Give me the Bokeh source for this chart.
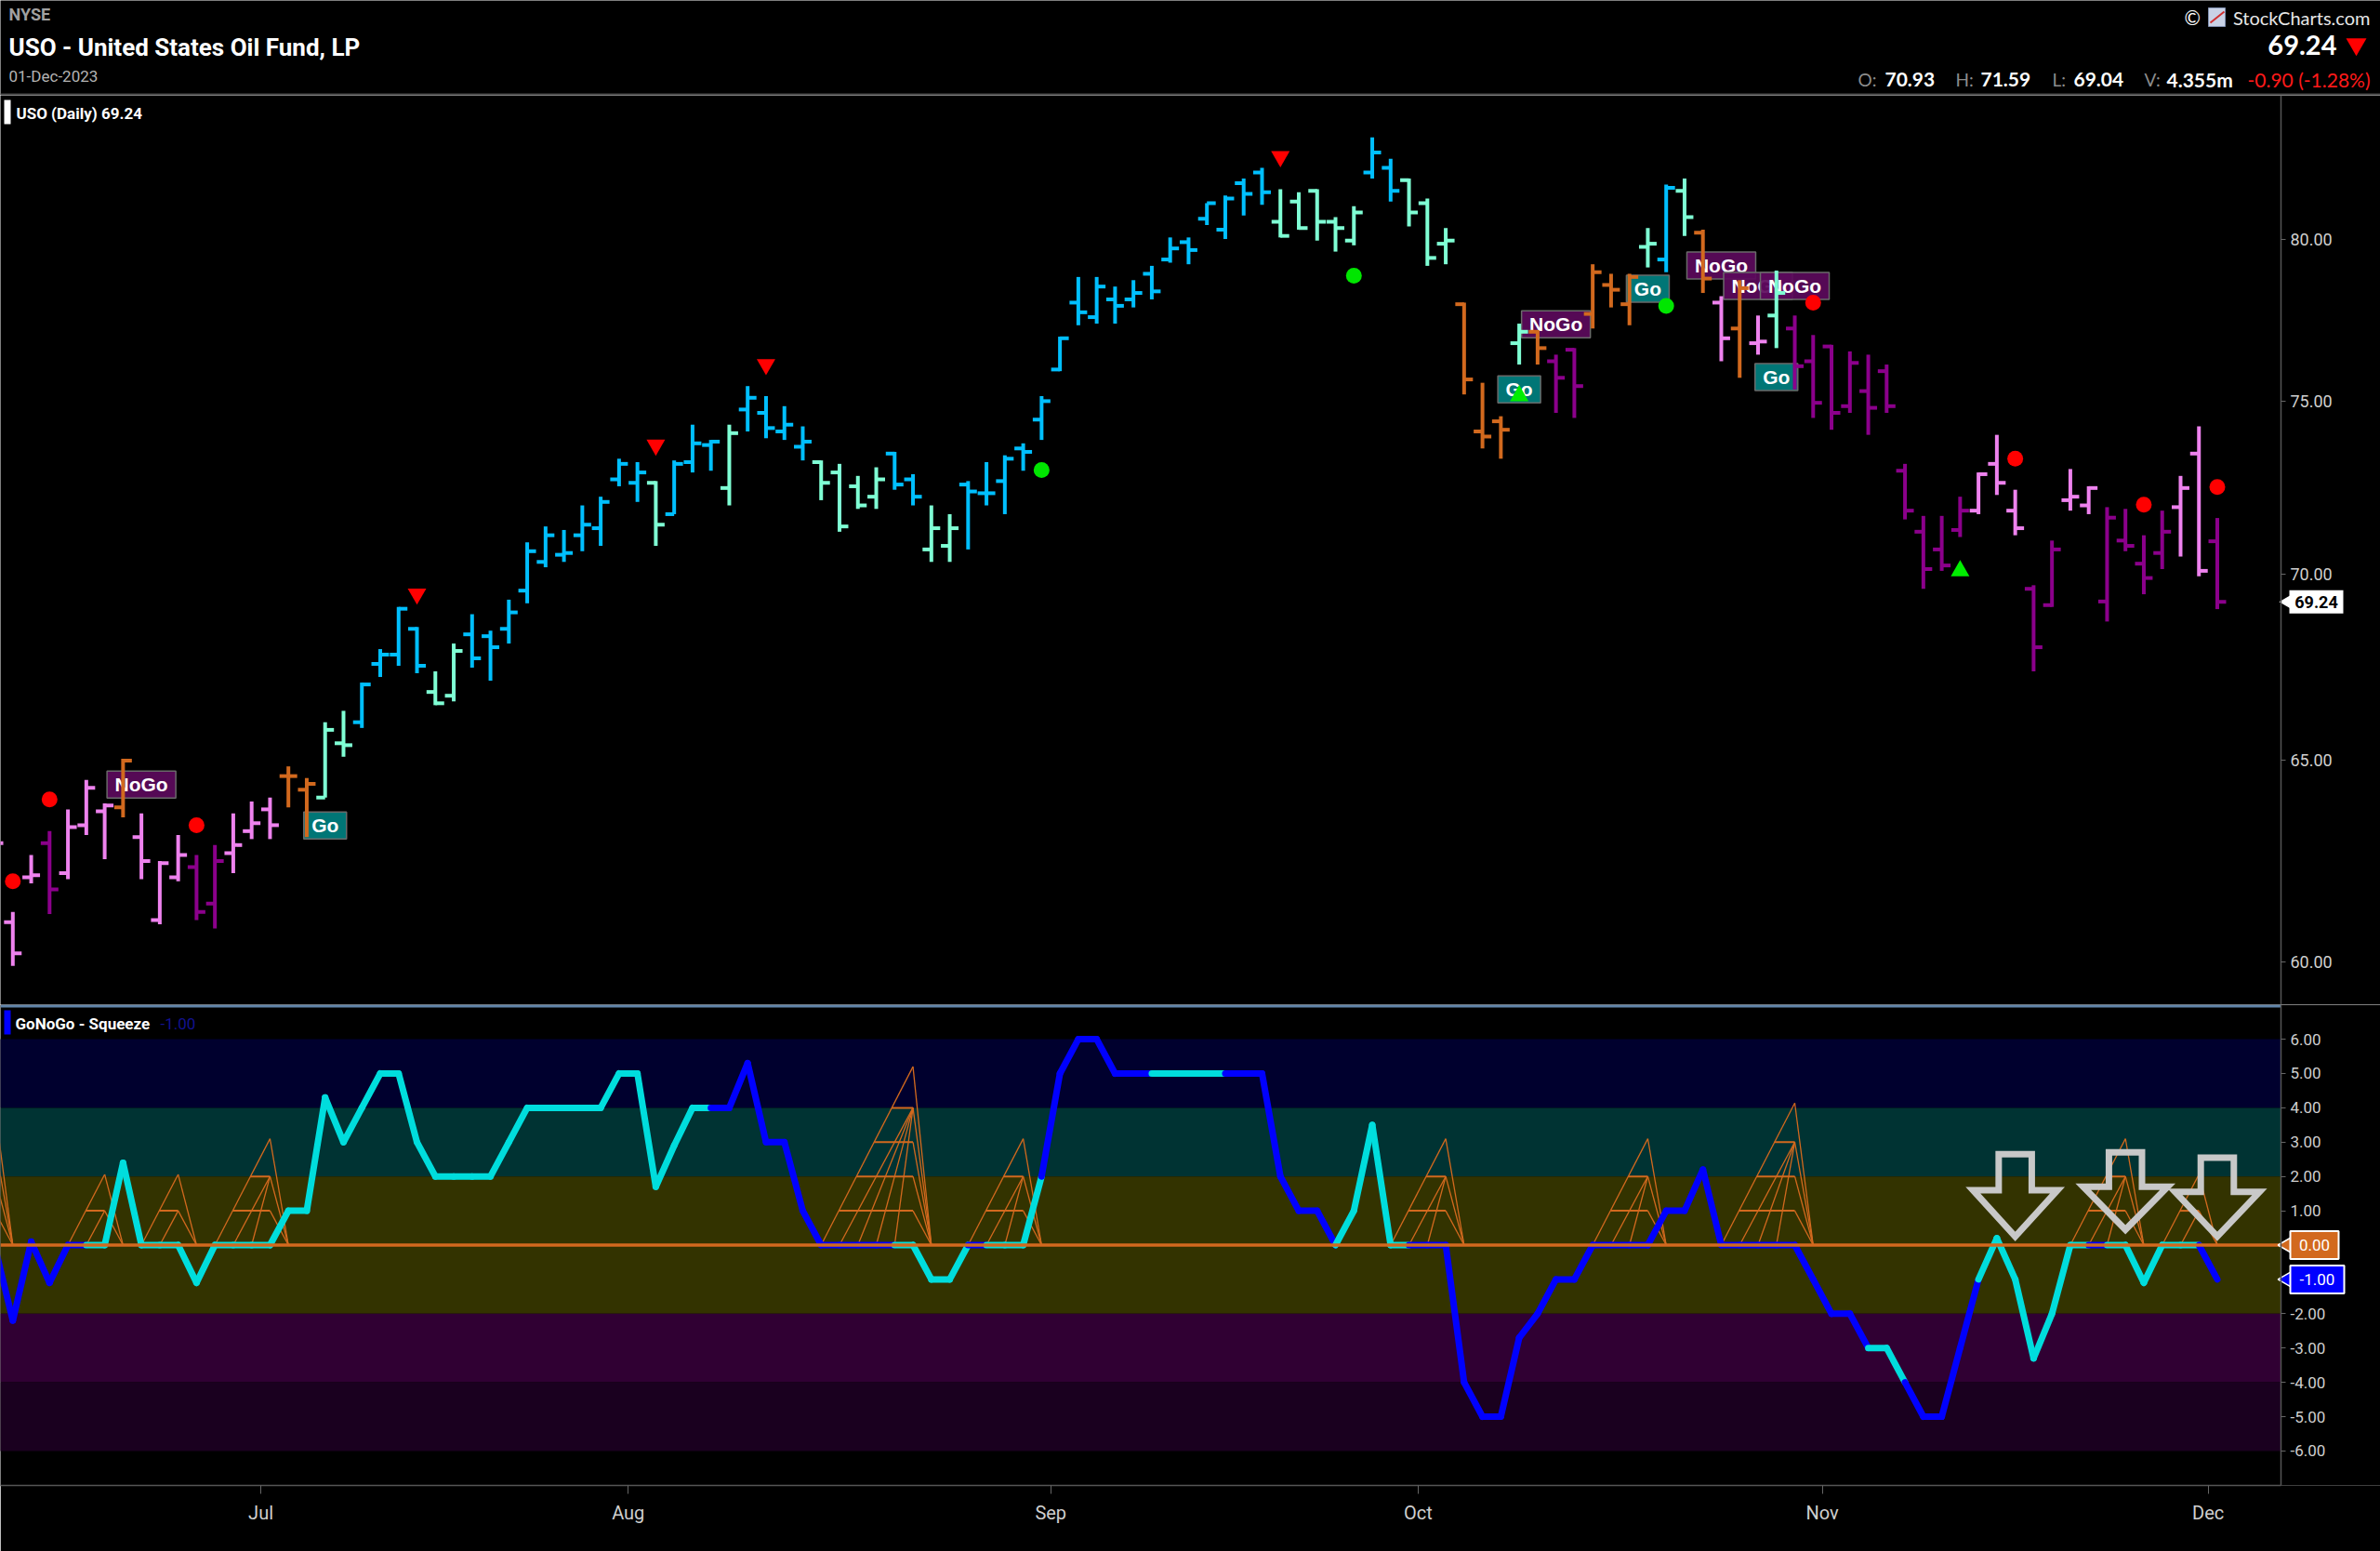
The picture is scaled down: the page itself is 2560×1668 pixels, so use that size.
import math
from bokeh.plotting import figure
from bokeh.layouts import column
from bokeh.models import Range1d, FixedTicker, NumeralTickFormatter
from bokeh.core.properties import value
from bokeh.embed import file_html
from bokeh.resources import INLINE

# ---------------- data (bar index -1 .. 120 ; 0 = 12-Jun-2023, 120 = 01-Dec-2023) ----------------
bar_index = list(range(-1, 121))

opens = [
    63.2, 60.95, 62.05, 62.9, 62.15, 63.35, 63.7, 63.8, 63.05, 61.0,
    62.05, 62.3, 61.4, 62.65, 63.2, 63.75, 64.6, 64.25, 64.05, 65.45,
    66.0, 67.55, 67.8, 68.5, 66.8, 66.7, 68.35, 68.3, 68.5, 69.55,
    70.35, 70.55, 71.1, 71.3, 72.7, 72.6, 72.6, 71.7, 73.2, 73.7,
    72.45, 74.75, 74.65, 74.1, 73.65, 73.2, 72.9, 72.5, 72.2, 73.45,
    72.7, 70.7, 70.8, 72.55, 72.3, 72.65, 73.6, 74.45, 75.95, 78.0,
    77.55, 78.1, 78.1, 78.9, 79.35, 79.9, 80.65, 80.3, 81.8, 82.15,
    80.55, 81.2, 81.55, 80.55, 79.95, 82.15, 82.3, 81.9, 81.15, 79.85,
    77.95, 74.1, 74.4, 76.75, 77.1, 76.2, 76.55, 77.65, 78.55, 77.95,
    79.75, 79.35, 81.55, 80.2, 78.0, 77.2, 76.75, 77.6, 77.2, 76.2,
    76.65, 74.85, 75.3, 75.9, 72.95, 71.2, 70.7, 71.25, 71.8, 73.15,
    71.8, 69.6, 69.15, 72.1, 71.95, 69.25, 70.95, 70.3, 70.6, 71.9,
    73.45, 70.93]
highs = [
    63.6, 61.2, 62.6, 63.2, 63.75, 64.5, 63.9, 65.05, 63.65, 62.45,
    63.1, 62.6, 62.85, 63.65, 63.95, 64.05, 64.85, 64.55, 66.0, 66.3,
    67.05, 67.95, 69.1, 68.55, 67.35, 68.1, 68.9, 68.45, 69.3, 70.9,
    71.35, 71.25, 71.95, 72.2, 73.3, 73.2, 72.65, 73.25, 74.3, 73.85,
    74.3, 75.45, 75.15, 74.85, 74.25, 73.25, 73.15, 72.8, 73.05, 73.5,
    72.85, 71.95, 71.7, 72.65, 73.2, 73.4, 73.75, 75.15, 76.95, 78.8,
    78.8, 78.5, 78.7, 79.15, 80.05, 80.05, 81.15, 81.4, 81.95, 82.3,
    81.6, 81.5, 81.6, 80.7, 81.05, 83.3, 82.6, 81.95, 81.3, 80.35,
    78.0, 75.55, 74.55, 77.35, 77.15, 76.4, 76.6, 79.2, 78.9, 78.9,
    80.35, 81.75, 81.95, 80.3, 78.2, 78.7, 77.6, 79.0, 77.6, 77.0,
    76.7, 76.5, 76.4, 76.1, 73.15, 71.65, 71.65, 72.2, 72.9, 74.0,
    72.4, 69.7, 70.95, 73.0, 72.5, 71.9, 71.85, 71.1, 71.8, 72.8,
    74.25, 71.59]
lows = [
    62.4, 59.9, 61.9, 61.15, 62.0, 63.1, 62.5, 63.55, 62.0, 60.9,
    61.95, 61.0, 60.8, 62.15, 63.0, 63.0, 63.8, 63.05, 64.05, 65.1,
    65.85, 67.2, 67.5, 67.3, 66.45, 66.55, 67.45, 67.1, 68.1, 69.2,
    70.2, 70.35, 70.65, 70.8, 72.5, 72.05, 70.8, 71.7, 72.9, 72.95,
    71.95, 74.1, 73.9, 73.85, 73.25, 72.1, 71.2, 71.85, 71.85, 72.4,
    71.95, 70.35, 70.35, 70.7, 71.95, 71.7, 72.95, 73.85, 75.9, 77.3,
    77.35, 77.35, 77.85, 78.1, 79.25, 79.2, 80.45, 80.0, 80.75, 81.1,
    80.05, 80.3, 79.95, 79.6, 79.8, 81.95, 81.2, 80.4, 79.15, 79.2,
    75.2, 73.6, 73.3, 76.1, 76.1, 74.65, 74.5, 77.2, 77.85, 77.3,
    79.1, 78.95, 80.1, 78.3, 76.2, 75.7, 76.4, 76.6, 75.35, 74.5,
    74.15, 74.65, 74.0, 74.65, 71.55, 69.6, 70.1, 71.05, 71.7, 72.25,
    71.1, 67.35, 69.1, 71.8, 71.7, 68.7, 70.65, 69.45, 70.15, 70.5,
    69.95, 69.04]
closes = [
    62.9, 60.2, 62.1, 61.75, 63.3, 64.3, 63.85, 65.0, 62.45, 62.4,
    62.6, 61.2, 62.45, 62.85, 63.4, 63.35, 64.6, 64.4, 65.8, 65.4,
    67.0, 67.8, 69.05, 67.5, 66.5, 67.9, 67.7, 68.0, 68.95, 70.65,
    71.1, 70.6, 71.4, 72.05, 73.15, 72.9, 71.4, 73.15, 73.75, 73.8,
    74.05, 75.1, 74.2, 74.3, 73.8, 72.6, 71.35, 71.95, 72.7, 72.55,
    72.2, 71.3, 71.3, 72.35, 72.3, 73.3, 73.5, 75.0, 76.9, 77.7,
    78.5, 77.9, 78.3, 78.35, 79.7, 79.65, 81.15, 81.3, 81.45, 81.5,
    80.1, 80.35, 80.55, 80.35, 80.85, 82.8, 81.55, 80.85, 79.4, 79.95,
    75.65, 73.95, 74.15, 77.1, 76.6, 75.7, 75.45, 78.95, 78.4, 78.8,
    79.85, 81.65, 80.7, 78.75, 76.9, 78.45, 76.8, 78.3, 76.05, 74.95,
    74.65, 76.15, 74.8, 74.85, 71.8, 70.15, 70.25, 71.8, 72.85, 72.6,
    71.3, 68.0, 70.7, 72.2, 72.45, 71.6, 70.8, 69.9, 71.2, 72.45,
    70.1, 69.24]
# GoNoGo trend per bar: P=weak NoGo, D=strong NoGo, O=neutral, A=weak Go, B=strong Go
trend = (
    "PPPDPPPOPP" "PDDPPPOOAA" "BBBBAABBBB" "BBBBBBABBB" "ABBBBAAAAB"
    "BAABBBBBBB" "BBBBBBBBBB" "AAAAABBAAA" "OOOAODDOOO" "ABAOPOPADD"
    "DDDDDDDDPP" "PDDPPDDDDP" "PD")

# GoNoGo oscillator per bar and its colour (A = cyan, B = blue)
osc = [
    0, -2.2, 0.1, -1.1, 0, 0, 0, 2.4, 0, 0,
    0, -1.1, 0, 0, 0, 0, 1, 1, 4.3, 3,
    4, 5, 5, 3, 2, 2, 2, 2, 3, 4,
    4, 4, 4, 4, 5, 5, 1.7, 2.9, 4, 4,
    4, 5.3, 3, 3, 1, 0, 0, 0, 0, 0,
    0, -1, -1, 0, 0, 0, 0, 2, 5, 6,
    6, 5, 5, 5, 5, 5, 5, 5, 5, 5,
    2, 1, 1, 0, 1, 3.5, 0, 0, 0, 0,
    -4, -5, -5, -2.7, -2, -1, -1, 0, 0, 0,
    0, 1, 1, 2.2, 0, 0, 0, 0, 0, -1,
    -2, -2, -3, -3, -4, -5, -5, -3, -1, 0.2,
    -1, -3.3, -2, 0, 0, 0, 0, -1.1, 0, 0,
    0, -1]
osc_col = (
    "BBBBBBAAAA" "AAAAAAAAAA" "AAAAAAAAAA" "AAAAAAAAAA" "BBBBBBBBBB"
    "AAAABAAABB" "BBBBAAAABB" "BBBBAAAABB" "BBBBBBBBBB" "BBBBBBBBBB"
    "BBBAABBBBA" "AAAAABAAAA" "AB")

# squeeze episodes (start bar, peak bar, peak height)
sq_start = [-5, 3, 7, 11, 44, 52, 75, 86, 93, 112, 117]
sq_peak = [-1, 5, 9, 14, 49, 55, 78, 89, 97, 115, 119]
sq_height = [4.1, 2.06, 2.06, 3.1, 5.2, 3.1, 3.1, 3.1, 4.14, 3.1, 2.06]

# price panel signals
red_dot_bar = [0, 2, 10, 98, 109, 116, 120]
red_dot_price = [61.95, 64.0, 63.35, 78.0, 73.3, 71.97, 72.48]
green_dot_bar = [56, 73, 90]
green_dot_price = [72.97, 78.84, 77.9]
red_tri_bar = [22, 35, 41, 69]
red_tri_price = [69.46, 73.7, 76.1, 82.67]
green_tri_bar = [82, 106]
green_tri_price = [75.16, 70.1]
label_bar = [7, 17, 82, 84, 89, 93, 95, 96, 97]
label_text = ["NoGo", "Go", "Go", "NoGo", "Go", "NoGo", "NoGo", "Go", "NoGo"]
label_price = [64.38, 63.34, 75.35, 77.33, 78.43, 79.16, 78.52, 75.72, 78.52]

# down arrows in the oscillator panel
arrow_bar = [109, 115, 120]
arrow_top = [2.65, 2.7, 2.55]
arrow_neck = [1.6, 1.7, 1.55]
arrow_tip = [0.25, 0.45, 0.25]

# axes
price_ticks = [60, 65, 70, 75, 80]
osc_ticks = [6, 5, 4, 3, 2, 1, -2, -3, -4, -5, -6]
month_labels = ["Jul", "Aug", "Sep", "Oct", "Nov", "Dec"]
month_first_bar = [14, 34, 57, 77, 99, 120]
band_low = [4, 2, -2, -4, -6]
band_high = [6, 4, 2, -2, -4]
band_colors = ["#00002e", "#003333", "#333300", "#300033", "#1a001f"]

volume_txt = "4.355m"
change_txt = "-0.90 (-1.28%)"

# ---------------- styling / layout constants ----------------
W = 2560
FONT = "Roboto"
TREND_COLORS = {"P": "#EE82EE", "D": "#8B008B", "O": "#D2691E", "A": "#7FFFD4", "B": "#00BFFF"}
OSC_COLORS = {"A": "#00DDDD", "B": "#0000FF"}
BAR_PX = 19.76          # pixels per bar
X0_PX = 13.3            # pixel of bar 0
AXIS_PX = 2453          # right axis line
XL = (0 - X0_PX) / BAR_PX
XF = (W - X0_PX) / BAR_PX
XA = (AXIS_PX - X0_PX) / BAR_PX
YB, YT = 58.98, 84.71
HH, PH, LH = 102, 978, 588
LBORDER = 71
LTOP, LBOT = 7.005, -7.005
TICK = 0.48


def style(p):
    p.background_fill_color = "black"
    p.border_fill_color = "black"
    p.outline_line_color = None
    p.grid.visible = False
    p.min_border_left = 0
    p.min_border_top = 0
    p.min_border_right = 0


def px_to_x(px):
    return (px - X0_PX) / BAR_PX


def py_to_price(py):
    lt, lb = math.log(YT), math.log(YB)
    return math.exp(lt - (py - HH) / PH * (lt - lb))


def py_to_osc(py):
    return LTOP - (py - (HH + PH)) / (LH - LBORDER) * (LTOP - LBOT)


def style_axis(ax, size):
    ax.axis_line_color = "#555555"
    ax.axis_line_width = 1.5
    ax.major_tick_line_color = "#666666"
    ax.major_tick_out = 5
    ax.major_tick_in = 0
    ax.minor_tick_line_color = None
    ax.major_label_standoff = 5
    ax.major_label_text_color = "#cfcfcf"
    ax.major_label_text_font = FONT
    ax.major_label_text_font_size = size


# ---------------- header ----------------
hd = figure(width=W, height=HH, x_range=Range1d(0, W), y_range=Range1d(HH, 0),
            toolbar_location=None, output_backend="svg", min_border=0)
style(hd)
hd.min_border_bottom = 0
hd.xaxis.visible = False
hd.yaxis.visible = False
hd.segment([0], [101], [W], [101], line_color="#4a4a4a", line_width=2)
hd.text([9], [15], text=["NYSE"], text_font=value(FONT), text_font_style="bold",
        text_font_size="18px", text_color="#a0a0a0", text_baseline="middle")
hd.text([9], [50], text=["USO - United States Oil Fund, LP"], text_font=value(FONT),
        text_font_style="bold", text_font_size="26px", text_color="white", text_baseline="middle")
hd.text([9], [81], text=["01-Dec-2023"], text_font=value(FONT), text_font_size="17px",
        text_color="#b4b4b4", text_baseline="middle")
hd.text([2349], [18], text=["©"], text_font=value("Lato"), text_font_size="21px",
        text_color="white", text_baseline="middle")
hd.rect([2384], [18], width=18, height=20, fill_color="#c9d2e6", line_color="#8090b0")
hd.segment([2377], [24], [2392], [12], line_color="#d03030", line_width=2)
hd.text([2549], [18], text=["StockCharts.com"], text_font=value("Lato"), text_font_size="20px",
        text_color="#e6e6e6", text_baseline="middle", text_align="right")
hd.text([2513], [48], text=[f"{closes[-1]:.2f}"], text_font=value("Lato"), text_font_style="bold",
        text_font_size="29px", text_color="white", text_baseline="middle", text_align="right")
hd.scatter([2534], [47], marker="inverted_triangle", size=22, fill_color="#ff0000", line_color=None)
ohlc_items = [("O:", 1998, 2027, opens[-1]), ("H:", 2103, 2130, highs[-1]),
              ("L:", 2207, 2230, lows[-1])]
for lab, xl_, xv, v in ohlc_items:
    hd.text([xl_], [85], text=[lab], text_font=value("Lato"), text_font_size="19px",
            text_color="#8c8c8c", text_baseline="middle")
    hd.text([xv], [85], text=[f"{v:.2f}"], text_font=value("Lato"), text_font_style="bold",
            text_font_size="21px", text_color="white", text_baseline="middle")
hd.text([2306], [85], text=["V:"], text_font=value("Lato"), text_font_size="19px",
        text_color="#8c8c8c", text_baseline="middle")
hd.text([2330], [85], text=[volume_txt], text_font=value("Lato"), text_font_style="bold",
        text_font_size="21px", text_color="white", text_baseline="middle")
hd.text([2549], [85], text=[change_txt], text_font=value("Lato"), text_font_size="21px",
        text_color="#ff1a1a", text_baseline="middle", text_align="right")

# ---------------- price panel ----------------
pf = figure(width=W, height=PH, x_range=Range1d(XL, XF), y_range=Range1d(YB, YT),
            y_axis_type="log", y_axis_location="right", toolbar_location=None,
            output_backend="svg")
style(pf)
pf.min_border_bottom = 0
pf.xaxis.visible = False
ya = pf.yaxis[0]
ya.ticker = FixedTicker(ticks=price_ticks)
ya.formatter = NumeralTickFormatter(format="0.00")
ya.fixed_location = XA
style_axis(ya, "18px")

# Go / NoGo labels (drawn under the bars)
for b, t, y in zip(label_bar, label_text, label_price):
    go = t == "Go"
    pf.rect([b], [y], width=46 if go else 74, height=29, width_units="screen",
            height_units="screen", fill_color="#008080" if go else "#5c0a5c",
            fill_alpha=0.92, line_color="#6a6a6a", line_width=1.5)
    pf.text([b], [y], text=[t], text_align="center", text_baseline="middle", text_color="white",
            text_font=value("Liberation Sans"), text_font_style="bold", text_font_size="21px")

bc = [TREND_COLORS[t] for t in trend]
pf.segment(bar_index, lows, bar_index, highs, line_color=bc, line_width=4)
pf.segment([i - TICK for i in bar_index], opens, bar_index, opens, line_color=bc, line_width=4)
pf.segment(bar_index, closes, [i + TICK for i in bar_index], closes, line_color=bc, line_width=4)

pf.scatter(red_dot_bar, red_dot_price, marker="circle", size=17, fill_color="#ff0000", line_color=None)
pf.scatter(green_dot_bar, green_dot_price, marker="circle", size=17, fill_color="#00e600", line_color=None)
pf.scatter(red_tri_bar, red_tri_price, marker="inverted_triangle", size=20, fill_color="#ff0000", line_color=None)
pf.scatter(green_tri_bar, green_tri_price, marker="triangle", size=20, fill_color="#00ee00", line_color=None)

# panel legend
pf.rect([px_to_x(7.5)], [py_to_price(120)], width=7, height=26, width_units="screen",
        height_units="screen", fill_color="white", line_color=None)
pf.text([px_to_x(17)], [py_to_price(121)], text=[f"USO (Daily) {closes[-1]:.2f}"],
        text_font=value(FONT), text_font_style="bold", text_font_size="17px",
        text_color="white", text_baseline="middle")

# last-price badge on the axis
pf.scatter([px_to_x(2459)], [closes[-1]], marker="triangle", angle=math.pi / 2, size=14,
           fill_color="white", line_color=None)
pf.rect([px_to_x(2491)], [closes[-1]], width=58, height=25, width_units="screen",
        height_units="screen", fill_color="white", line_color=None)
pf.text([px_to_x(2491)], [closes[-1]], text=[f"{closes[-1]:.2f}"], text_color="black",
        text_font=value(FONT), text_font_style="bold", text_font_size="18px",
        text_baseline="middle", text_align="center")

# ---------------- oscillator panel ----------------
lf = figure(width=W, height=LH, x_range=pf.x_range, y_range=Range1d(LBOT, LTOP),
            y_axis_location="right", toolbar_location=None, output_backend="svg")
style(lf)
lf.min_border_bottom = LBORDER

lf.quad(left=XL - 2, right=XA, bottom=band_low, top=band_high, fill_color=band_colors,
        line_color=None)

sq_xs, sq_ys, rung_xs, rung_ys = [], [], [], []
for s, pk, h in zip(sq_start, sq_peak, sq_height):
    n = int(round(h))
    sq_xs.append([s, pk]); sq_ys.append([0, h])
    for k in list(range(1, n)) + [h]:
        sq_xs.append([pk, pk + 1]); sq_ys.append([k, 0])
    for j in range(1, n):
        sq_xs.append([s + j, pk]); sq_ys.append([0, n - 1])
    for k in range(1, n):
        rung_xs.append([s + k * (pk - s) / h, pk]); rung_ys.append([k, k])
lf.multi_line(sq_xs, sq_ys, line_color="#D2691E", line_width=1.3)
lf.multi_line(rung_xs, rung_ys, line_color="#D2691E", line_width=2)

lf.segment(bar_index[:-1], osc[:-1], bar_index[1:], osc[1:],
           line_color=[OSC_COLORS[c] for c in osc_col[1:]], line_width=7, line_cap="round")
lf.segment([XL], [0], [XA], [0], line_color="#D2691E", line_width=3.5)
lf.segment([XL], [py_to_osc(1081.5)], [XA], [py_to_osc(1081.5)], line_color="#5f83a8",
           line_width=3)

axs, ays = [], []
for b, t, nk, tp in zip(arrow_bar, arrow_top, arrow_neck, arrow_tip):
    sw, hw = 0.9, 2.3
    axs.append([b - sw, b + sw, b + sw, b + hw, b, b - hw, b - sw])
    ays.append([t, t, nk, nk, tp, nk, nk])
lf.patches(axs, ays, fill_alpha=0, line_color="#c8c8c8", line_width=7, line_join="miter")

# legend
lf.rect([px_to_x(7.5)], [py_to_osc(1099)], width=7, height=26, width_units="screen",
        height_units="screen", fill_color="#0000ff", line_color=None)
lf.text([px_to_x(16)], [py_to_osc(1100)], text=["GoNoGo - Squeeze"], text_font=value(FONT),
        text_font_style="bold", text_font_size="17px", text_color="white", text_baseline="middle")
lf.text([px_to_x(172)], [py_to_osc(1100)], text=[f"{osc[-1]:.2f}"], text_font=value(FONT),
        text_font_size="17px", text_color="#121290", text_baseline="middle")

la = lf.yaxis[0]
la.ticker = FixedTicker(ticks=osc_ticks)
la.formatter = NumeralTickFormatter(format="0.00")
la.fixed_location = XA
style_axis(la, "17px")

xa = lf.xaxis[0]
mt = [b - 0.5 for b in month_first_bar]
xa.ticker = FixedTicker(ticks=mt)
xa.major_label_overrides = {t: l for t, l in zip(mt, month_labels)}
xa.bounds = (XL, XA)
style_axis(xa, "20px")
xa.major_tick_out = 9
xa.major_label_standoff = 8

# badges on the oscillator axis
for yv, txt, col, wpx in [(0, "0.00", "#D2691E", 52), (osc[-1], f"{osc[-1]:.2f}", "#0000ff", 58)]:
    lf.scatter([px_to_x(2459)], [yv], marker="triangle", angle=math.pi / 2, size=16,
               fill_color=col, line_color="white", line_width=1.5)
    lf.rect([px_to_x(2463 + wpx / 2)], [yv], width=wpx, height=30, width_units="screen",
            height_units="screen", fill_color=col, line_color="white", line_width=2)
    lf.text([px_to_x(2463 + wpx / 2)], [yv], text=[txt], text_color="white",
            text_font=value(FONT), text_font_size="17px", text_baseline="middle",
            text_align="center")

layout = column(hd, pf, lf, spacing=0)
html = file_html(layout, INLINE, title="USO GoNoGo")
html = html.replace("<body>", '<body style="background-color:#000000;">', 1)
open("out.html", "w").write(html)
